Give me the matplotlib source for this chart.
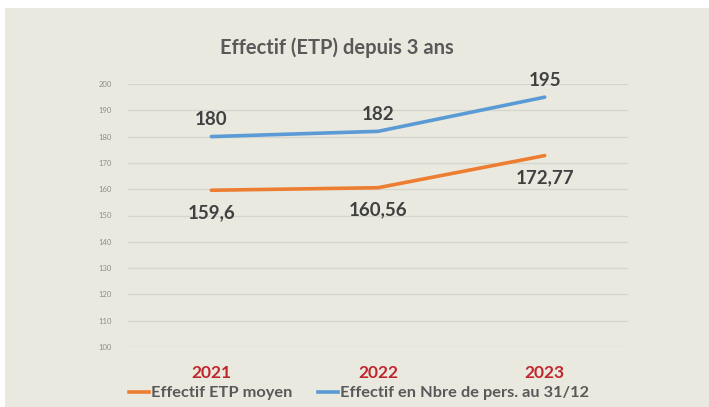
import matplotlib
matplotlib.use("Agg")
import matplotlib.pyplot as plt
from matplotlib.patches import Rectangle
from matplotlib.lines import Line2D

years = ["2021", "2022", "2023"]
etp_moyen = [159.6, 160.56, 172.77]
nbre_pers = [180, 182, 195]
etp_labels = ["159,6", "160,56", "172,77"]
pers_labels = ["180", "182", "195"]
y_ticks = [100, 110, 120, 130, 140, 150, 160, 170, 180, 190, 200]

plt.rcParams['font.family'] = ['Lato', 'DejaVu Sans']

W, H = 709, 407
fig = plt.figure(figsize=(W / 100, H / 100), dpi=100, facecolor='white')
bg = '#EAE9DF'
fig.patches.append(Rectangle((5 / W, 0), 1 - 5 / W, (H - 8) / H, transform=fig.transFigure,
                             facecolor=bg, edgecolor='none', zorder=-10))

ax = fig.add_axes([128 / W, (H - 347) / H, 500 / W, 263 / H])
ax.set_facecolor('none')
x = list(range(len(years)))

blue = '#5B9BD5'
orange = '#ED7D31'
ax.plot(x, nbre_pers, color=blue, lw=2.6, solid_capstyle='round', zorder=3)
ax.plot(x, etp_moyen, color=orange, lw=2.6, solid_capstyle='round', zorder=3)

ax.set_xlim(-0.5, 2.5)
ax.set_ylim(100, 200)
ax.set_yticks(y_ticks)
ax.set_yticklabels([str(t) for t in y_ticks], fontsize=5.5, color='#8C8C8C')
ax.tick_params(axis='y', length=0, pad=12)
ax.set_xticks(x)
ax.set_xticklabels(years, fontsize=12.5, fontweight='bold', color='#C0272D')
ax.tick_params(axis='x', length=0, pad=13)
ax.grid(axis='y', color='#D6D6D0', lw=1)
for s in ax.spines.values():
    s.set_visible(False)

lab_kw = dict(fontsize=13.5, fontweight='bold', color='#404040', ha='center')
for xi, v, t in zip(x, nbre_pers, pers_labels):
    ax.annotate(t, (xi, v), xytext=(0, 6), textcoords='offset points', va='bottom', **lab_kw)
for xi, v, t in zip(x, etp_moyen, etp_labels):
    ax.annotate(t, (xi, v), xytext=(0, -10), textcoords='offset points', va='top', **lab_kw)

fig.text(337 / W, 1 - 48 / H, "Effectif (ETP) depuis 3 ans", fontsize=14.5, fontweight='bold',
         color='#595959', ha='center', va='center')

handles = [Line2D([], [], color=orange, lw=2.6), Line2D([], [], color=blue, lw=2.6)]
leg = fig.legend(handles, ["Effectif ETP moyen", "Effectif en Nbre de pers. au 31/12"],
                 loc='center', bbox_to_anchor=(359 / W, 1 - 393 / H), ncol=2, frameon=False,
                 handlelength=1.2, handletextpad=0.1, columnspacing=1.6,
                 prop={'size': 11.8, 'weight': 'bold'})
for t in leg.get_texts():
    t.set_color('#595959')

fig.savefig('out.png', dpi=100, facecolor=fig.get_facecolor())
